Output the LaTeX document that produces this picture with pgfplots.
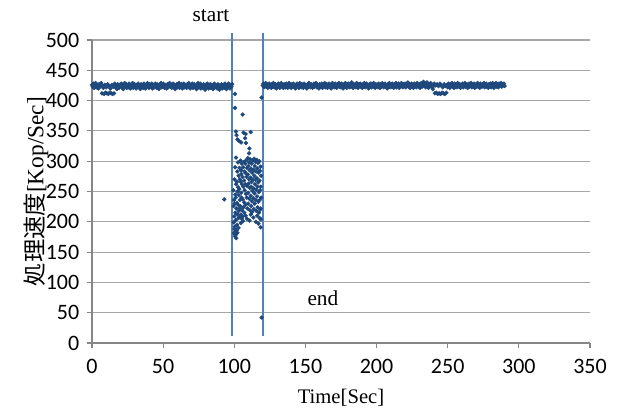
\documentclass[border=0pt]{standalone}
\usepackage{fontspec}
\setmainfont{Liberation Serif}
\newfontfamily\calibri{Carlito}
\newfontfamily\cjk{Noto Sans CJK JP}
\usepackage{pgfplots}
\pgfplotsset{compat=1.18}

\definecolor{ptblue}{RGB}{31,73,125}
\definecolor{lnblue}{RGB}{79,129,189}
\definecolor{gridgray}{RGB}{166,166,166}
\definecolor{axgray}{RGB}{134,134,134}

\begin{document}
\begin{tikzpicture}
% page = 619x412 px at 0.75pt/px, axis box at (92,40)-(590,343)
\path[use as bounding box] (-69pt,-51.75pt) rectangle (395.25pt,257.25pt);
\begin{axis}[
    scale only axis,
    width=373.5pt, height=227.25pt,
    xmin=0, xmax=350, ymin=0, ymax=500,
    xtick={0,50,...,350}, ytick={0,50,...,500},
    axis x line*=bottom, axis y line*=left,
    axis line style={axgray, line width=0.8pt, -},
    ymajorgrids, grid style={gridgray, line width=0.8pt},
    tick align=outside, major tick length=4pt,
    tick style={axgray, line width=0.8pt},
    /pgf/number format/assume math mode=true,
    ticklabel style={font=\calibri\fontsize{16.5}{18}\selectfont},
    xticklabel style={yshift=-5pt},
    yticklabel style={xshift=-2pt},
    xlabel={Time[Sec]},
    ylabel={{\cjk 処理速度}[Kop/Sec]},
    xlabel style={font=\fontsize{15.5}{17}\selectfont, at={(axis description cs:0.5,0)}, anchor=center, yshift=-41pt},
    ylabel style={font=\fontsize{17.5}{19}\selectfont, at={(axis description cs:0,0.5)}, anchor=center, yshift=42pt},
    clip=false,
    pts/.style={ptblue, only marks, mark=square*, mark size=1.0pt,
        mark options={rotate=45, fill=ptblue, draw=ptblue}},
]
% steady phase before the switch
\addplot[pts] coordinates {
(0,426) (0.5,423) (1,428) (1.5,421) (2,425) (2.5,429) (3,422) (3.5,426) (4,424) (4.5,420)
(5,427) (5.5,423) (6,425) (6.5,429) (7,412) (7.5,424) (8,421) (8.5,411) (9,426) (9.5,413)
(10,422) (10.5,412) (11,427) (11.5,411) (12,424) (12.5,413) (13,420) (13.5,412) (14,426) (14.5,411)
(15,423) (15.5,412) (16,428) (16.5,422) (17,425) (17.5,419) (18,427) (18.5,423) (19,421) (19.5,426)
(20,424) (20.5,428) (21,422) (21.5,426) (22,419) (22.5,425) (23,429) (23.5,423) (24,427) (24.5,421)
(25,425) (25.5,422) (26,428) (26.5,424) (27,420) (27.5,426) (28,423) (28.5,429) (29,421) (29.5,425)
(30,427) (30.5,423) (31,420) (31.5,426) (32,424) (32.5,428) (33,422) (33.5,425) (34,419) (34.5,427)
(35,423) (35.5,426) (36,421) (36.5,428) (37,424) (37.5,420) (38,426) (38.5,422) (39,429) (39.5,425)
(40,421) (40.5,427) (41,423) (41.5,425) (42,428) (42.5,420) (43,424) (43.5,426) (44,422) (44.5,428)
(45,425) (45.5,421) (46,427) (46.5,423) (47,419) (47.5,426) (48,424) (48.5,429) (49,422) (49.5,425)
(50,428) (50.5,423) (51,421) (51.5,426) (52,424) (52.5,420) (53,427) (53.5,422) (54,425) (54.5,429)
(55,423) (55.5,426) (56,421) (56.5,424) (57,428) (57.5,422) (58,426) (58.5,419) (59,424) (59.5,427)
(60,422) (60.5,425) (61,429) (61.5,421) (62,426) (62.5,423) (63,427) (63.5,420) (64,425) (64.5,428)
(65,422) (65.5,426) (66,424) (66.5,421) (67,427) (67.5,423) (68,429) (68.5,425) (69,420) (69.5,426)
(70,423) (70.5,428) (71,421) (71.5,425) (72,427) (72.5,422) (73,424) (73.5,419) (74,426) (74.5,429)
(75,422) (75.5,425) (76,428) (76.5,420) (77,426) (77.5,423) (78,421) (78.5,427) (79,424) (79.5,418)
(80,426) (80.5,422) (81,428) (81.5,424) (82,420) (82.5,425) (83,427) (83.5,421) (84,426) (84.5,423)
(85,419) (85.5,425) (86,428) (86.5,422) (87,426) (87.5,424) (88,420) (88.5,427) (89,423) (89.5,418)
(90,425) (90.5,422) (91,427) (91.5,420) (92,424) (92.5,426) (93,421) (93.5,428) (94,423) (94.5,419)
(95,426) (95.5,422) (96,428) (96.5,424) (97,420) (97.5,426) (98,423) (98.5,427)
};
% transition between start and end
\addplot[pts] coordinates {
(100.5,411) (100.5,388) (105.9,377) (93,237) (119.2,405) (119.2,42)
(101.2,349) (101.6,343) (102.2,336) (103.5,333) (104.8,331) (106.5,347) (108,345) (107.6,338)
(108.2,330) (111.5,348) (110.6,321) (110.4,313) (101.2,306)
(99.4,252) (99.9,236) (99.5,226) (100.0,209) (99.6,199) (100.1,188) (99.7,181)
(100.6,290) (100.2,270) (100.7,245) (100.3,230) (100.8,215) (100.4,192) (100.9,184) (100.5,176)
(101.3,262) (101.0,240) (101.5,222) (101.1,203) (101.6,186) (101.2,179) (101.4,173)
(102.1,283) (101.8,266) (102.3,250) (101.9,231) (102.4,212) (102.0,195) (102.2,182)
(102.6,298) (103.0,276) (102.7,257) (103.1,244) (102.8,228) (103.2,218) (102.9,206) (103.0,190)
(103.6,289) (103.9,270) (103.5,254) (104.0,236) (103.7,222) (104.1,208)
(104.4,301) (104.8,285) (104.5,266) (104.9,248) (104.3,226) (104.7,212) (104.6,198)
(105.3,296) (105.0,279) (105.4,262) (105.1,240) (105.5,219) (105.2,205)
(106.2,290) (105.8,274) (106.3,258) (105.9,237) (106.4,224) (106.0,209) (106.1,201)
(106.8,299) (107.2,283) (106.9,268) (107.3,252) (107.0,232) (107.1,215)
(107.7,296) (108.1,280) (107.8,262) (108.2,246) (107.9,228) (108.0,210)
(108.6,302) (109.0,289) (108.7,274) (109.1,259) (108.8,240) (109.2,222) (108.9,205)
(109.5,305) (109.9,292) (109.6,278) (110.0,263) (109.7,248) (109.8,230)
(110.4,298) (110.8,285) (110.5,270) (110.9,256) (110.6,238) (111.0,219) (110.7,202)
(111.3,303) (111.7,288) (111.4,273) (111.8,258) (111.5,243) (111.9,226) (111.6,212)
(112.2,296) (112.6,281) (112.3,266) (112.7,251) (112.4,234) (112.5,216)
(113.1,301) (113.5,286) (113.2,270) (113.6,255) (113.3,239) (113.7,221) (113.4,207)
(114.0,304) (114.4,292) (114.1,276) (114.5,262) (114.2,247) (114.3,230)
(114.9,299) (115.3,283) (115.0,269) (115.4,253) (115.1,236) (115.5,218) (115.2,200)
(115.8,302) (116.2,288) (115.9,272) (116.3,258) (116.0,242) (116.4,224) (116.1,210)
(116.7,297) (117.1,281) (116.8,265) (117.2,249) (116.9,233) (117.3,215) (117.0,197)
(117.6,300) (118.0,284) (117.7,268) (118.1,252) (117.8,236) (118.2,220) (117.9,206)
(118.5,291) (118.8,276) (118.6,258) (118.9,240) (118.4,222) (118.7,204) (118.5,191)
};
% steady phase after the switch
\addplot[pts] coordinates {
(120,425) (120.5,428) (121,422) (121.5,426) (122,429) (122.5,423) (123,427) (123.5,421) (124,425) (124.5,428)
(125,423) (125.5,426) (126,421) (126.5,427) (127,424) (127.5,429) (128,422) (128.5,425) (129,427) (129.5,420)
(130,426) (130.5,423) (131,428) (131.5,424) (132,421) (132.5,426) (133,429) (133.5,423) (134,425) (134.5,421)
(135,427) (135.5,424) (136,422) (136.5,428) (137,425) (137.5,421) (138,426) (138.5,429) (139,423) (139.5,425)
(140,421) (140.5,427) (141,424) (141.5,428) (142,422) (142.5,426) (143,420) (143.5,425) (144,428) (144.5,423)
(145,426) (145.5,421) (146,429) (146.5,424) (147,422) (147.5,427) (148,425) (148.5,421) (149,428) (149.5,423)
(150,426) (150.5,424) (151,420) (151.5,427) (152,423) (152.5,429) (153,425) (153.5,422) (154,427) (154.5,424)
(155,421) (155.5,426) (156,428) (156.5,423) (157,425) (157.5,429) (158,422) (158.5,426) (159,424) (159.5,420)
(160,427) (160.5,423) (161,425) (161.5,428) (162,421) (162.5,426) (163,424) (163.5,429) (164,422) (164.5,425)
(165,427) (165.5,421) (166,424) (166.5,428) (167,423) (167.5,426) (168,420) (168.5,425) (169,429) (169.5,423)
(170,426) (170.5,422) (171,428) (171.5,424) (172,421) (172.5,427) (173,425) (173.5,429) (174,423) (174.5,426)
(175,422) (175.5,428) (176,424) (176.5,420) (177,426) (177.5,423) (178,429) (178.5,425) (179,421) (179.5,427)
(180,424) (180.5,428) (181,422) (181.5,426) (182,423) (182.5,430) (183,425) (183.5,421) (184,427) (184.5,424)
(185,426) (185.5,422) (186,429) (186.5,424) (187,421) (187.5,427) (188,425) (188.5,428) (189,423) (189.5,426)
(190,421) (190.5,427) (191,424) (191.5,429) (192,422) (192.5,426) (193,428) (193.5,423) (194,425) (194.5,420)
(195,427) (195.5,424) (196,428) (196.5,422) (197,426) (197.5,423) (198,429) (198.5,425) (199,421) (199.5,427)
(200,424) (200.5,426) (201,422) (201.5,428) (202,425) (202.5,421) (203,427) (203.5,423) (204,429) (204.5,425)
(205,422) (205.5,426) (206,428) (206.5,423) (207,425) (207.5,420) (208,427) (208.5,424) (209,429) (209.5,422)
(210,426) (210.5,423) (211,428) (211.5,425) (212,421) (212.5,427) (213,424) (213.5,429) (214,422) (214.5,426)
(215,424) (215.5,428) (216,421) (216.5,426) (217,423) (217.5,429) (218,425) (218.5,422) (219,427) (219.5,424)
(220,428) (220.5,422) (221,426) (221.5,424) (222,430) (222.5,423) (223,427) (223.5,421) (224,425) (224.5,428)
(225,423) (225.5,426) (226,421) (226.5,428) (227,424) (227.5,426) (228,422) (228.5,429) (229,425) (229.5,423)
(230,427) (230.5,421) (231,425) (231.5,429) (232,423) (232.5,426) (233,431) (233.5,424) (234,428) (234.5,422)
(235,426) (235.5,430) (236,424) (236.5,421) (237,427) (237.5,425) (238,429) (238.5,423) (239,426) (239.5,419)
(240,424) (240.5,428) (241,412) (241.5,425) (242,413) (242.5,427) (243,411) (243.5,424) (244,412) (244.5,428)
(245,411) (245.5,425) (246,413) (246.5,422) (247,412) (247.5,427) (248,411) (248.5,424) (249,413) (249.5,426)
(250,422) (250.5,428) (251,425) (251.5,421) (252,427) (252.5,424) (253,429) (253.5,423) (254,426) (254.5,421)
(255,428) (255.5,424) (256,426) (256.5,422) (257,429) (257.5,425) (258,423) (258.5,427) (259,421) (259.5,426)
(260,424) (260.5,428) (261,422) (261.5,426) (262,429) (262.5,423) (263,425) (263.5,427) (264,421) (264.5,426)
(265,428) (265.5,423) (266,425) (266.5,429) (267,422) (267.5,426) (268,424) (268.5,428) (269,421) (269.5,425)
(270,427) (270.5,423) (271,429) (271.5,424) (272,426) (272.5,421) (273,428) (273.5,425) (274,423) (274.5,427)
(275,424) (275.5,429) (276,422) (276.5,426) (277,428) (277.5,423) (278,425) (278.5,421) (279,427) (279.5,424)
(280,428) (280.5,422) (281,426) (281.5,429) (282,424) (282.5,421) (283,427) (283.5,425) (284,429) (284.5,423)
(285,426) (285.5,422) (286,428) (286.5,424) (287,426) (287.5,429) (288,423) (288.5,427) (289,425) (289.5,428) (290,424)
};
% start / end markers
\addplot[lnblue, line width=1.5pt, no marks] coordinates {(98.6,12) (98.6,511)};
\addplot[lnblue, line width=1.5pt, no marks] coordinates {(120.4,12) (120.4,511)};
\node[font=\fontsize{16}{18}\selectfont] at (axis cs:83.6,541) {start};
\node[font=\fontsize{16}{18}\selectfont] at (axis cs:162.3,74.3) {end};
\end{axis}
\end{tikzpicture}
\end{document}
